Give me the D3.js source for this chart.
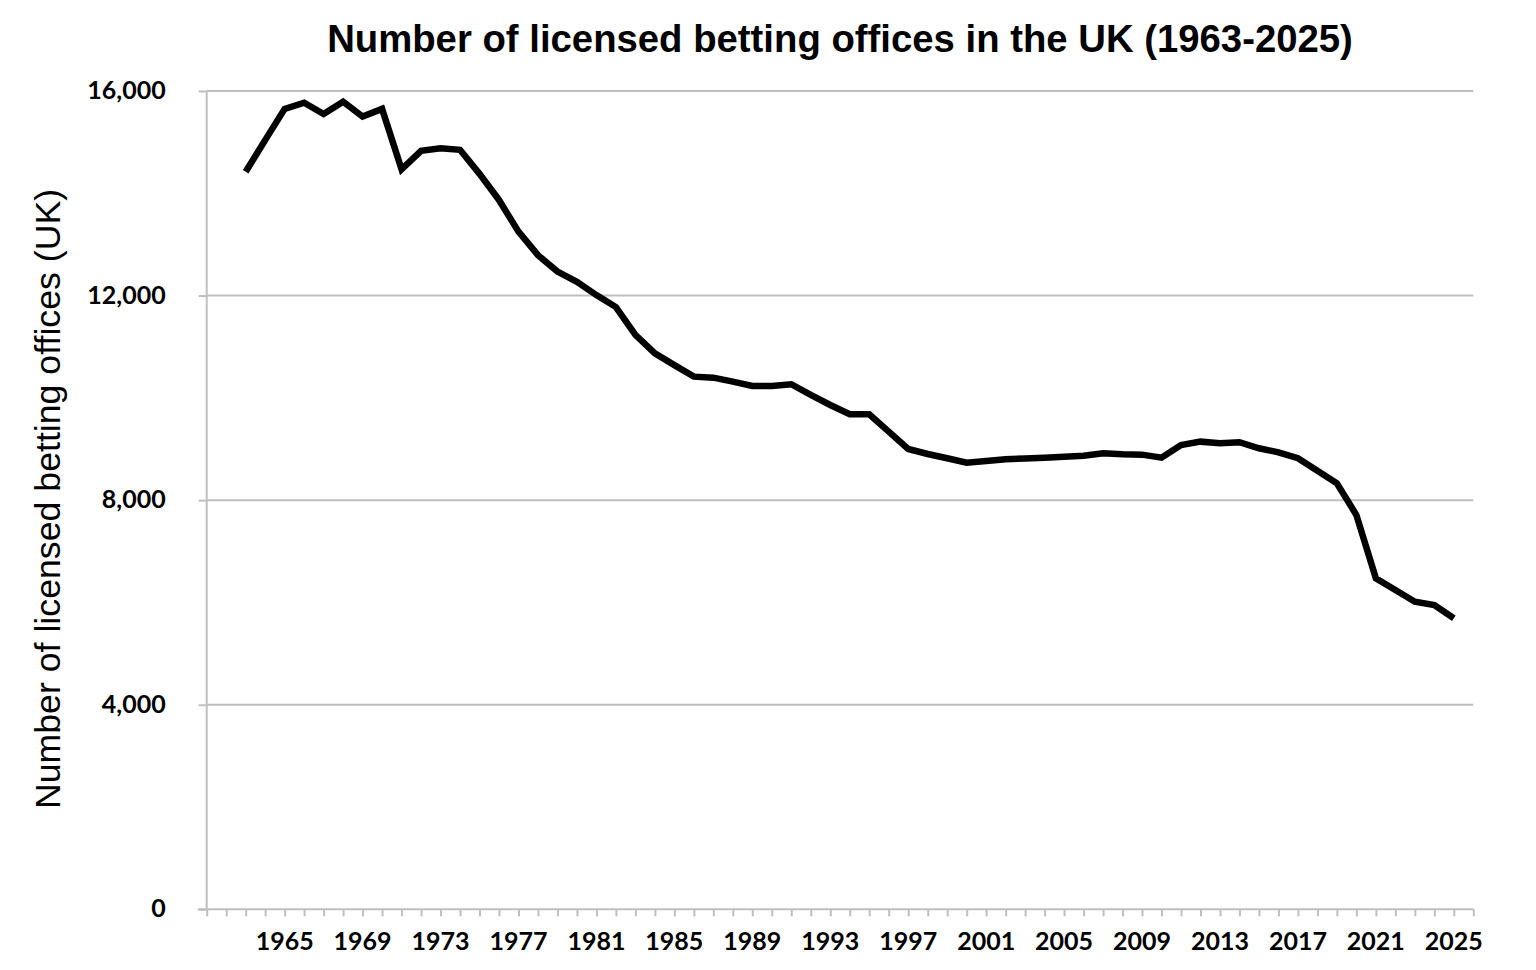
<!DOCTYPE html>
<html>
<head>
<meta charset="utf-8">
<script src="https://cdn.jsdelivr.net/npm/d3@7"></script>
<style>
html,body{margin:0;padding:0;background:#fff;}
svg{display:block;}
</style>
</head>
<body>
<svg id="chart" width="1536" height="970"></svg>
<script>
const years = d3.range(1963, 2026);
const offices = [
  14420, 15040, 15650, 15770, 15550, 15790, 15500, 15650, 14470, 14830,
  14880, 14850, 14380, 13870, 13250, 12790, 12470, 12270, 12010, 11775,
  11230, 10870, 10640, 10415, 10395, 10317, 10233, 10233, 10266, 10057,
  9861, 9679, 9679, 9339, 9001, 8903, 8819, 8733, 8766, 8799,
  8815, 8830, 8850, 8870, 8917, 8897, 8890, 8831, 9079, 9144,
  9112, 9132, 9014, 8936, 8819, 8577, 8330, 7710, 6472, 6244,
  6015, 5950, 5690
];
const yTicks = [0, 4000, 8000, 12000, 16000];
const xLabelYears = [1965,1969,1973,1977,1981,1985,1989,1993,1997,2001,2005,2009,2013,2017,2021,2025];
const titleText = "Number of licensed betting offices in the UK (1963-2025)";
const yTitle = "Number of licensed betting offices (UK)";

const data = years.map((yr, i) => ({year: yr, value: offices[i]}));
const svg = d3.select("#chart");
const pLeft = 206.7, pRight = 1473.3, pTop = 91, pBottom = 909.3;
const x = d3.scaleLinear().domain([1961, 2026]).range([pLeft, pRight]);
const y = d3.scaleLinear().domain([0, 16000]).range([pBottom, pTop]);
const grey = "#bfbfbf";

// gridlines
svg.append("g").selectAll("line").data(yTicks.filter(d => d > 0)).join("line")
  .attr("x1", pLeft).attr("x2", pRight)
  .attr("y1", d => y(d)).attr("y2", d => y(d))
  .attr("stroke", grey).attr("stroke-width", 2);

// y axis
const yAxis = svg.append("g").attr("transform", `translate(${pLeft},0)`)
  .call(d3.axisLeft(y).tickValues(yTicks).tickSize(8).tickPadding(33)
    .tickFormat(d3.format(",")));
yAxis.select(".domain").attr("stroke", grey).attr("stroke-width", 2).attr("d", `M0,${pTop}V${pBottom}`);
yAxis.selectAll(".tick line").attr("stroke", grey).attr("stroke-width", 2);
yAxis.selectAll(".tick text")
  .attr("font-family", "Lato, 'Open Sans', sans-serif").attr("font-weight", "bold")
  .attr("font-size", 25).attr("fill", "#000").attr("dy", "0.3em");

// x axis
const xAxis = svg.append("g").attr("transform", `translate(0,${pBottom})`)
  .call(d3.axisBottom(x).tickValues(d3.range(1961, 2027)).tickSize(7).tickFormat(""));
xAxis.select(".domain").attr("stroke", grey).attr("stroke-width", 2).attr("d", `M${pLeft-9},0H${pRight}`);
xAxis.selectAll(".tick line").attr("stroke", grey).attr("stroke-width", 2);

svg.append("g").selectAll("text").data(xLabelYears).join("text")
  .attr("x", d => x(d)).attr("y", 950)
  .attr("text-anchor", "middle")
  .attr("font-family", "Lato, 'Open Sans', sans-serif").attr("font-weight", "bold")
  .attr("font-size", 25).attr("fill", "#000")
  .text(d => d);

// line
svg.append("path").datum(data)
  .attr("fill", "none").attr("stroke", "#000").attr("stroke-width", 6.5)
  .attr("stroke-linejoin", "miter").attr("stroke-linecap", "butt")
  .attr("d", d3.line().x(d => x(d.year)).y(d => y(d.value)));

// title
svg.append("text").attr("x", 840).attr("y", 52).attr("text-anchor", "middle")
  .attr("font-family", "'Liberation Sans', Arial, sans-serif").attr("font-weight", "bold")
  .attr("font-size", 38.3).attr("fill", "#000").text(titleText);

// y title
svg.append("text").attr("transform", "translate(60,499) rotate(-90)").attr("text-anchor", "middle")
  .attr("font-family", "'Liberation Sans', Arial, sans-serif")
  .attr("font-size", 35.7).attr("fill", "#000").text(yTitle);
</script>
</body>
</html>
